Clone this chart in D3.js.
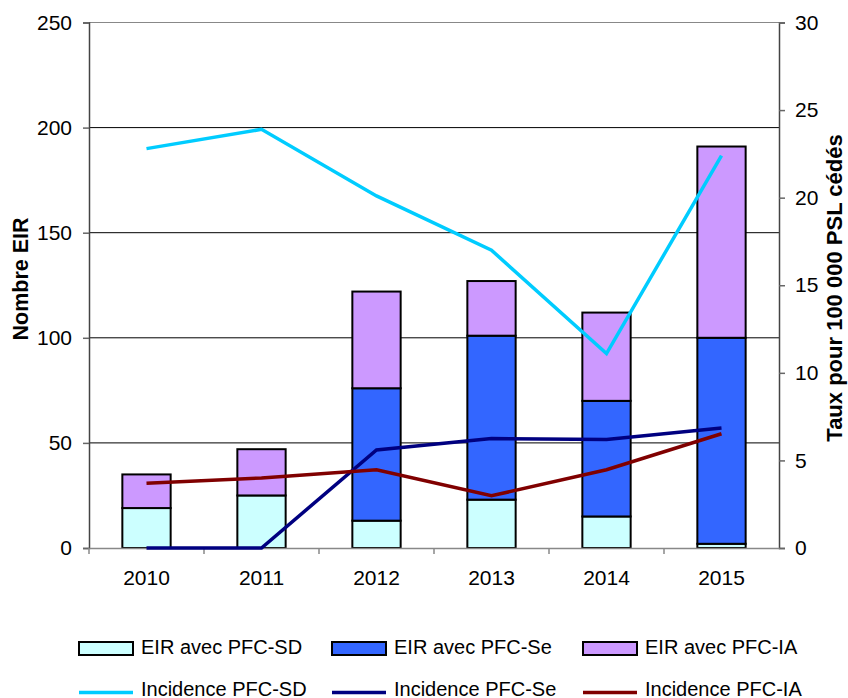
<!DOCTYPE html>
<html>
<head>
<meta charset="utf-8">
<script src="https://cdn.jsdelivr.net/npm/d3@7"></script>
<style>
  body { margin: 0; background: #fff; }
  svg { font-family: "Liberation Sans", Arial, sans-serif; }
</style>
</head>
<body>
<div id="chart"></div>
<script>
// Data
var years = ["2010", "2011", "2012", "2013", "2014", "2015"];
var eirSD = [19, 25, 13, 23, 15, 2];
var eirSe = [0, 0, 63, 78, 55, 98];
var eirIA = [16, 22, 46, 26, 42, 91];
var incSD = [22.8, 23.9, 20.1, 17.0, 11.1, 22.4];
var incSe = [0, 0, 5.6, 6.25, 6.2, 6.85];
var incIA = [3.7, 4.0, 4.47, 2.98, 4.47, 6.52];
var leftTicks = [0, 50, 100, 150, 200, 250];
var rightTicks = [0, 5, 10, 15, 20, 25, 30];

(function () {
    "use strict";

    var W = 848, H = 698;
    var plotL = 89, plotR = 779, plotT = 22.5, plotB = 548;

    var svg = d3.select("#chart").append("svg")
        .attr("width", W).attr("height", H);

    var x = d3.scaleBand().domain(years).range([plotL, plotR]).paddingInner(0.58).paddingOuter(0.29);
    var xb = d3.scaleBand().domain(years).range([plotL, plotR]);
    var y = d3.scaleLinear().domain([0, 250]).range([plotB, plotT]);
    var y2 = d3.scaleLinear().domain([0, 30]).range([plotB, plotT]);

    // Gridlines
    svg.append("g").selectAll("line")
        .data(leftTicks.filter(function (d) { return d > 0; }))
        .join("line")
        .attr("x1", plotL).attr("x2", plotR)
        .attr("y1", function (d) { return y(d); })
        .attr("y2", function (d) { return y(d); })
        .attr("stroke", function (d) { return d === 250 ? "#888" : "#000"; })
        .attr("stroke-width", 1);

    // Stacked bars
    var series = [
        { name: "EIR avec PFC-SD", color: "#CCFFFF" },
        { name: "EIR avec PFC-Se", color: "#3366FF" },
        { name: "EIR avec PFC-IA", color: "#CC99FF" }
    ];
    var stackData = years.map(function (yr, i) {
        return { year: yr, sd: eirSD[i], se: eirSe[i], ia: eirIA[i] };
    });
    var stack = d3.stack().keys(["sd", "se", "ia"])(stackData);

    svg.append("g").selectAll("g")
        .data(stack)
        .join("g")
        .attr("fill", function (d, i) { return series[i].color; })
        .selectAll("rect")
        .data(function (d) { return d.filter(function (s) { return s[1] - s[0] > 0; }); })
        .join("rect")
        .attr("x", function (d) { return x(d.data.year); })
        .attr("width", x.bandwidth())
        .attr("y", function (d) { return y(d[1]); })
        .attr("height", function (d) { return y(d[0]) - y(d[1]); })
        .attr("stroke", "#000")
        .attr("stroke-width", 2);

    // Axes
    var gl = svg.append("g").attr("transform", "translate(" + plotL + ",0)")
        .call(d3.axisLeft(y).tickValues(leftTicks).tickSize(6).tickPadding(11));
    var gr = svg.append("g").attr("transform", "translate(" + plotR + ",0)")
        .call(d3.axisRight(y2).tickValues(rightTicks).tickSize(6).tickPadding(10));
    var gb = svg.append("g").attr("transform", "translate(0," + plotB + ")")
        .call(d3.axisBottom(xb).tickSize(0).tickPadding(22));

    [gl, gr, gb].forEach(function (g) {
        g.select(".domain").attr("stroke", "#444").attr("stroke-width", 1.5);
        g.selectAll(".tick line").attr("stroke", "#666").attr("stroke-width", 1.5);
        g.selectAll("text").attr("font-size", "21px").attr("fill", "#000")
            .attr("font-family", "Liberation Sans, Arial, sans-serif");
    });
    gb.select(".domain").attr("stroke", "#888");

    // Category separators on the x axis
    svg.append("g").selectAll("line")
        .data(years)
        .join("line")
        .attr("x1", function (d) { return xb(d); })
        .attr("x2", function (d) { return xb(d); })
        .attr("y1", plotB).attr("y2", plotB + 6)
        .attr("stroke", "#888").attr("stroke-width", 1.5);

    // Lines
    var lines = [
        { name: "Incidence PFC-SD", values: incSD, color: "#00CCFF" },
        { name: "Incidence PFC-Se", values: incSe, color: "#000080" },
        { name: "Incidence PFC-IA", values: incIA, color: "#800000" }
    ];
    var lineGen = d3.line()
        .x(function (d, i) { return xb(years[i]) + xb.bandwidth() / 2; })
        .y(function (d) { return y2(d); });

    svg.append("g").selectAll("path")
        .data(lines)
        .join("path")
        .attr("d", function (d) { return lineGen(d.values); })
        .attr("fill", "none")
        .attr("stroke", function (d) { return d.color; })
        .attr("stroke-width", 3.5);

    // Axis titles
    svg.append("text")
        .attr("transform", "translate(28,279) rotate(-90)")
        .attr("text-anchor", "middle")
        .attr("font-size", "21.5px").attr("font-weight", "bold")
        .text("Nombre EIR");
    svg.append("text")
        .attr("transform", "translate(842,288) rotate(-90)")
        .attr("text-anchor", "middle")
        .attr("font-size", "22px").attr("font-weight", "bold")
        .text("Taux pour 100 000 PSL cédés");

    // Legend
    var legX = [79, 332, 583];
    var leg1 = svg.append("g").selectAll("g").data(series).join("g")
        .attr("transform", function (d, i) { return "translate(" + legX[i] + ",642)"; });
    leg1.append("rect")
        .attr("width", 54).attr("height", 13)
        .attr("fill", function (d) { return d.color; })
        .attr("stroke", "#000").attr("stroke-width", 2);
    leg1.append("text")
        .attr("x", 62).attr("y", 12)
        .attr("font-size", "20px")
        .text(function (d) { return d.name; });

    var leg2 = svg.append("g").selectAll("g").data(lines).join("g")
        .attr("transform", function (d, i) { return "translate(" + legX[i] + ",692.5)"; });
    leg2.append("line")
        .attr("x1", 0).attr("x2", 54)
        .attr("stroke", function (d) { return d.color; })
        .attr("stroke-width", 3.5);
    leg2.append("text")
        .attr("x", 62).attr("y", 3.5)
        .attr("font-size", "20px")
        .text(function (d) { return d.name; });
})();
</script>
</body>
</html>
